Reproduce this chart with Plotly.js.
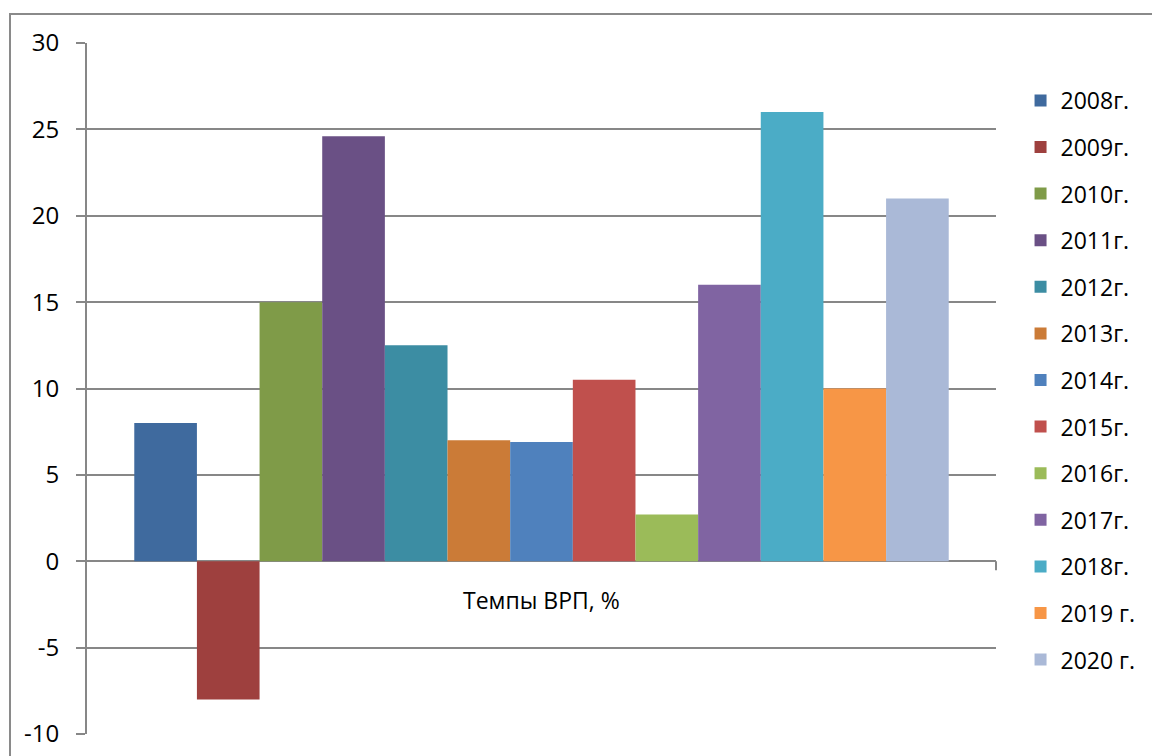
<!DOCTYPE html>
<html>
<head>
<meta charset="utf-8">
<script src="https://cdn.plot.ly/plotly-3.0.1.min.js"></script>
<style>
html,body{margin:0;padding:0;background:#fff;}
#chart{width:1152px;height:756px;}
</style>
</head>
<body>
<div id="chart"></div>
<script>
const category = ["Темпы ВРП, %"];
const seriesNames = ["2008г.","2009г.","2010г.","2011г.","2012г.","2013г.","2014г.","2015г.","2016г.","2017г.","2018г.","2019 г.","2020 г."];
const seriesValues = [8, -8, 15, 24.6, 12.5, 7.0, 6.9, 10.5, 2.7, 16, 26, 10, 21];
const seriesColors = ["#3F6A9E","#9E403E","#7F9B48","#6A5085","#3C8DA3","#CB7B37","#4F81BD","#C0504D","#9BBB59","#8064A2","#4BACC6","#F79646","#AAB9D7"];
const yTicks = [-10,-5,0,5,10,15,20,25,30];

const FONT = "Open Sans, Liberation Sans, sans-serif";
const GRID = "#878787";

const traces = seriesNames.map((name, i) => ({
  type: "bar",
  name: name,
  x: category,
  y: [seriesValues[i]],
  legendgroup: "g" + i,
  marker: {color: seriesColors[i]},
  hoverinfo: "name+y"
}));

const layout = {
  width: 1152,
  height: 756,
  margin: {l: 87, r: 156, t: 43, b: 22, pad: 0, autoexpand: false},
  paper_bgcolor: "#ffffff",
  plot_bgcolor: "#ffffff",
  font: {family: FONT, size: 23, color: "#000000"},
  barmode: "group",
  bargap: 0.104,
  bargroupgap: 0,
  showlegend: true,
  legend: {
    x: 1.027, xanchor: "left",
    y: 0.948, yanchor: "top",
    font: {family: FONT, size: 23, color: "#000"},
    tracegroupgap: 13.7,
    traceorder: "grouped",
    bgcolor: "rgba(0,0,0,0)"
  },
  xaxis: {
    type: "category",
    showticklabels: false,
    showgrid: false,
    showline: false,
    zeroline: false,
    ticks: "",
    fixedrange: true
  },
  yaxis: {
    range: [-10, 30],
    tickvals: yTicks,
    ticktext: yTicks.map(String),
    showgrid: true,
    gridcolor: GRID,
    gridwidth: 2,
    zeroline: true,
    zerolinecolor: GRID,
    zerolinewidth: 2,
    showline: true,
    linecolor: GRID,
    linewidth: 2,
    ticks: "outside",
    ticklen: 9,
    tickwidth: 2,
    tickcolor: GRID,
    ticklabelstandoff: 12,
    tickfont: {family: FONT, size: 24, color: "#000"},
    fixedrange: true
  },
  annotations: [{
    xref: "paper", x: 0.5,
    yref: "y", y: 0,
    yanchor: "middle", xanchor: "center",
    yshift: -39,
    showarrow: false,
    text: category[0],
    font: {family: FONT, size: 23, color: "#000"}
  }],
  shapes: [
    {
      type: "rect", xref: "paper", yref: "paper",
      x0: -0.0847, x1: 1.3, y0: 1.042, y1: -0.2,
      line: {color: "#8a8a8a", width: 2},
      fillcolor: "rgba(0,0,0,0)",
      layer: "below"
    },
    {
      type: "line", xref: "paper", x0: 1, x1: 1,
      yref: "y", ysizemode: "pixel", yanchor: 0, y0: 0, y1: -9,
      line: {color: GRID, width: 2}
    }
  ]
};

Plotly.newPlot("chart", traces, layout, {displayModeBar: false, staticPlot: true});
</script>
</body>
</html>
